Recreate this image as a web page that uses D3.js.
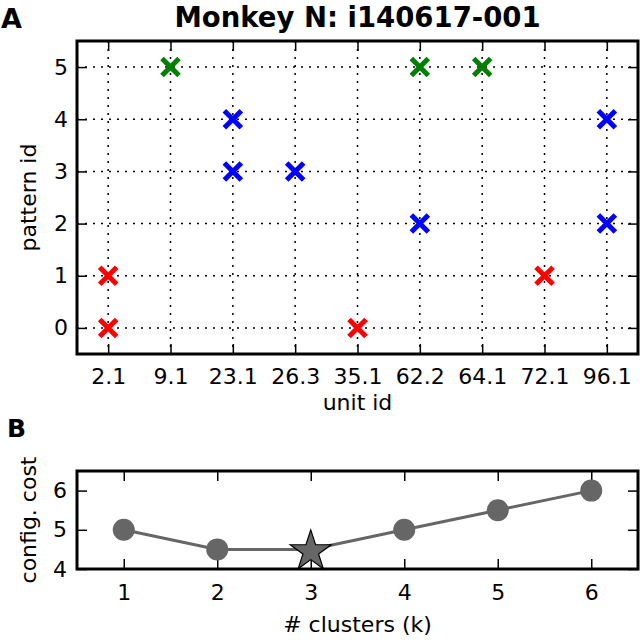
<!DOCTYPE html>
<html>
<head>
<meta charset="utf-8">
<script src="https://cdn.jsdelivr.net/npm/d3@7"></script>
<style>
  html, body { margin: 0; padding: 0; background: #fff; }
  text { font-family: "DejaVu Sans", sans-serif; }
</style>
</head>
<body>
<svg id="chart" width="640" height="640"></svg>
<script>
// ---------- data ----------
const units = ["2.1", "9.1", "23.1", "26.3", "35.1", "62.2", "64.1", "72.1", "96.1"];
const patternTicks = [0, 1, 2, 3, 4, 5];
const redPoints = [["2.1", 0], ["2.1", 1], ["35.1", 0], ["72.1", 1]];
const greenPoints = [["9.1", 5], ["62.2", 5], ["64.1", 5]];
const bluePoints = [["23.1", 4], ["23.1", 3], ["26.3", 3], ["62.2", 2], ["96.1", 4], ["96.1", 2]];
const clusterK = [1, 2, 3, 4, 5, 6];
const configCost = [5, 4.5, 4.5, 5, 5.5, 6];
const bestK = 3;
const costTicks = [4, 5, 6];
const title = "Monkey N: i140617-001";

const svg = d3.select("#chart");
const FS = 22;

// ---------- panel A ----------
const A = { left: 77, right: 638, top: 41, bottom: 354 };
const xA = d3.scalePoint().domain(units).range([A.left, A.right]).padding(0.5);
const yA = d3.scaleLinear().domain([-0.5, 5.5]).range([A.bottom, A.top]);

const gA = svg.append("g");
// grid
gA.append("g").selectAll("line.gx").data(units).join("line")
  .attr("x1", d => xA(d)).attr("x2", d => xA(d))
  .attr("y1", A.top).attr("y2", A.bottom)
  .attr("stroke", "#000").attr("stroke-width", 1.5).attr("stroke-dasharray", "2,6");
gA.append("g").selectAll("line.gy").data(patternTicks).join("line")
  .attr("x1", A.left).attr("x2", A.right)
  .attr("y1", d => yA(d)).attr("y2", d => yA(d))
  .attr("stroke", "#000").attr("stroke-width", 1.5).attr("stroke-dasharray", "2,6");

function styleAxis(g) {
  g.select(".domain").remove();
  g.selectAll(".tick line").attr("stroke", "#000").attr("stroke-width", 1.5);
  g.selectAll(".tick text").attr("font-size", FS).attr("fill", "#000")
    .attr("font-family", "DejaVu Sans, sans-serif");
}
const intFmt = d3.format("d");
// axes with inward ticks
gA.append("g").attr("transform", `translate(0,${A.bottom})`)
  .call(d3.axisBottom(xA).tickSizeInner(-10).tickSizeOuter(0).tickPadding(14)).call(styleAxis);
gA.append("g").attr("transform", `translate(0,${A.top})`)
  .call(d3.axisTop(xA).tickSizeInner(-10).tickSizeOuter(0).tickFormat("")).call(styleAxis);
gA.append("g").attr("transform", `translate(${A.left},0)`)
  .call(d3.axisLeft(yA).tickValues(patternTicks).tickFormat(intFmt).tickSizeInner(-10).tickSizeOuter(0).tickPadding(9)).call(styleAxis);
gA.append("g").attr("transform", `translate(${A.right},0)`)
  .call(d3.axisRight(yA).tickValues(patternTicks).tickSizeInner(-10).tickSizeOuter(0).tickFormat("")).call(styleAxis);

// markers
function crosses(data, color) {
  const s = 8.5;
  const g = gA.append("g");
  const m = g.selectAll("g").data(data).join("g")
    .attr("transform", d => `translate(${xA(d[0])},${yA(d[1])})`);
  m.append("path").attr("d", `M${-s},${-s}L${s},${s}M${-s},${s}L${s},${-s}`)
    .attr("stroke", color).attr("stroke-width", 5).attr("fill", "none");
}
crosses(redPoints, "#ff0000");
crosses(greenPoints, "#008000");
crosses(bluePoints, "#0000ff");

// frame
gA.append("rect").attr("x", A.left).attr("y", A.top)
  .attr("width", A.right - A.left).attr("height", A.bottom - A.top)
  .attr("fill", "none").attr("stroke", "#000").attr("stroke-width", 3);

// labels
svg.append("text").attr("x", (A.left + A.right) / 2).attr("y", 27)
  .attr("text-anchor", "middle").attr("font-size", 27.5).attr("font-weight", "bold").text(title);
svg.append("text").attr("x", 1).attr("y", 28)
  .attr("font-size", 27).attr("font-weight", "bold").text("A");
svg.append("text").attr("x", (A.left + A.right) / 2).attr("y", 410)
  .attr("text-anchor", "middle").attr("font-size", FS).text("unit id");
svg.append("text").attr("transform", `translate(36,${(A.top + A.bottom) / 2}) rotate(-90)`)
  .attr("text-anchor", "middle").attr("font-size", FS).text("pattern id");

// ---------- panel B ----------
const B = { left: 77, right: 638, top: 471, bottom: 569 };
const xB = d3.scaleLinear().domain([0.5, 6.5]).range([B.left, B.right]);
const yB = d3.scaleLinear().domain([4, 6.5]).range([B.bottom, B.top]);
const gB = svg.append("g");

gB.append("g").attr("transform", `translate(0,${B.bottom})`)
  .call(d3.axisBottom(xB).tickValues(clusterK).tickFormat(intFmt).tickSizeInner(-10).tickSizeOuter(0).tickPadding(15)).call(styleAxis);
gB.append("g").attr("transform", `translate(0,${B.top})`)
  .call(d3.axisTop(xB).tickValues(clusterK).tickSizeInner(-10).tickSizeOuter(0).tickFormat("")).call(styleAxis);
gB.append("g").attr("transform", `translate(${B.left},0)`)
  .call(d3.axisLeft(yB).tickValues(costTicks).tickFormat(intFmt).tickSizeInner(-10).tickSizeOuter(0).tickPadding(10)).call(styleAxis);
gB.append("g").attr("transform", `translate(${B.right},0)`)
  .call(d3.axisRight(yB).tickValues(costTicks).tickSizeInner(-10).tickSizeOuter(0).tickFormat("")).call(styleAxis);

const pts = clusterK.map((k, i) => ({ k, v: configCost[i] }));
gB.append("path").datum(pts)
  .attr("d", d3.line().x(d => xB(d.k)).y(d => yB(d.v)))
  .attr("fill", "none").attr("stroke", "#666666").attr("stroke-width", 3);
gB.append("g").selectAll("circle").data(pts.filter(d => d.k !== bestK)).join("circle")
  .attr("cx", d => xB(d.k)).attr("cy", d => yB(d.v)).attr("r", 11)
  .attr("fill", "#666666");
const starPt = pts.find(d => d.k === bestK);
gB.append("path")
  .attr("d", d3.symbol().type(d3.symbolStar).size(520)())
  .attr("transform", `translate(${xB(starPt.k)},${yB(starPt.v) + 2})`)
  .attr("fill", "#666666").attr("stroke", "#000").attr("stroke-width", 1.2);

gB.append("rect").attr("x", B.left).attr("y", B.top)
  .attr("width", B.right - B.left).attr("height", B.bottom - B.top)
  .attr("fill", "none").attr("stroke", "#000").attr("stroke-width", 3);

svg.append("text").attr("x", 7).attr("y", 437)
  .attr("font-size", 25).attr("font-weight", "bold").text("B");
svg.append("text").attr("x", (B.left + B.right) / 2).attr("y", 632)
  .attr("text-anchor", "middle").attr("font-size", FS).text("# clusters (k)");
svg.append("text").attr("transform", `translate(36,${(B.top + B.bottom) / 2}) rotate(-90)`)
  .attr("text-anchor", "middle").attr("font-size", FS).text("config. cost");
</script>
</body>
</html>
